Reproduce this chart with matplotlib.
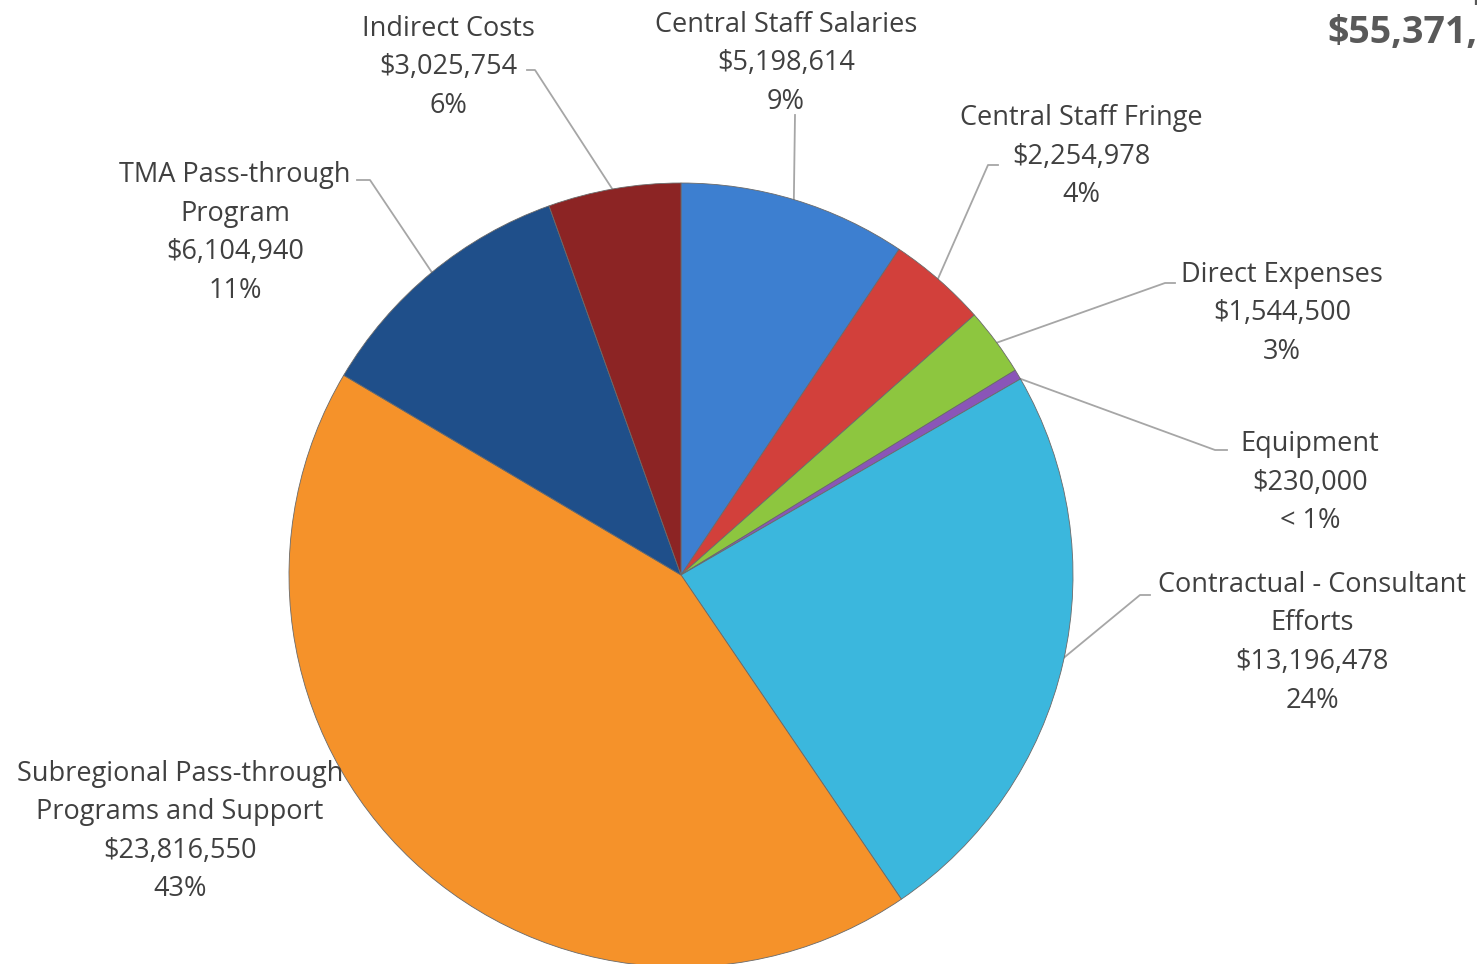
import matplotlib
matplotlib.use("Agg")
import numpy as np
import matplotlib.pyplot as plt

# budget categories, clockwise from 12 o'clock
labels = ["Central Staff Salaries", "Central Staff Fringe", "Direct Expenses", "Equipment",
          "Contractual - Consultant\nEfforts", "Subregional Pass-through\nPrograms and Support",
          "TMA Pass-through\nProgram", "Indirect Costs"]
values = [5198614, 2254978, 1544500, 230000, 13196478, 23816550, 6104940, 3025754]
pct_text = ["9%", "4%", "3%", "< 1%", "24%", "43%", "11%", "6%"]
colors = ["#3d7fd0", "#d2403b", "#8dc63f", "#8a55b8", "#3bb7dd", "#f5922a", "#1f4f8a", "#8c2424"]
title_lines = ["Total Expenditures", "$55,371,814"]

W, H = 1477, 964
fig = plt.figure(figsize=(W / 100, H / 100), dpi=100)
ax = fig.add_axes([0, 0, 1, 1])

cx, cy, r = 681, 575, 392
wedges, _ = ax.pie(values, startangle=90, counterclock=False, colors=colors,
                   center=(cx, -cy), radius=r, frame=True,
                   wedgeprops=dict(edgecolor="#6a6a6a", linewidth=0.6))
ax.set_xlim(0, W)
ax.set_ylim(-H, 0)
ax.set_aspect("equal")
ax.axis("off")

# label layout (center x, top line center y, leader elbow, leader end near text)
layout = [
    (786, 23, None, (795, 115)),
    (1081, 116, (988, 165), (998, 165)),
    (1282, 273, (1165, 283), (1175, 283)),
    (1310, 442, (1215, 450), (1227, 450)),
    (1312, 583, (1140, 595), (1150, 595)),
    (180, 772, None, None),
    (235, 173, (370, 180), (357, 180)),
    (448, 27, (535, 70), (527, 70)),
]

for w, lab, v, p, (tx, ty, elbow, end) in zip(wedges, labels, values, pct_text, layout):
    txt = lab + "\n" + "${:,}".format(v) + "\n" + p
    ax.text(tx, -ty + 12, txt, ha="center", va="top", fontsize=19.5, color="#404040",
            family="Open Sans", linespacing=1.5)
    if end is None:
        continue
    mid = np.deg2rad((w.theta1 + w.theta2) / 2)
    ex, ey = cx + (r - 4) * np.cos(mid), -cy + (r - 4) * np.sin(mid)
    pts = [(ex, ey)]
    if elbow is not None:
        pts.append((elbow[0], -elbow[1]))
    pts.append((end[0], -end[1]))
    xs, ys = zip(*pts)
    ax.plot(xs, ys, color="#a6a6a6", lw=1.3, zorder=0.5)

# title sits partly outside the canvas, as in the original
ax.text(1327, -33, title_lines[1], ha="left", va="center",
        fontsize=27, fontweight="bold", color="#595959", family="Open Sans")
ax.text(1327, 14, title_lines[0], ha="left", va="center",
        fontsize=27, fontweight="bold", color="#595959", family="Open Sans")

fig.savefig("out.png", dpi=100)
